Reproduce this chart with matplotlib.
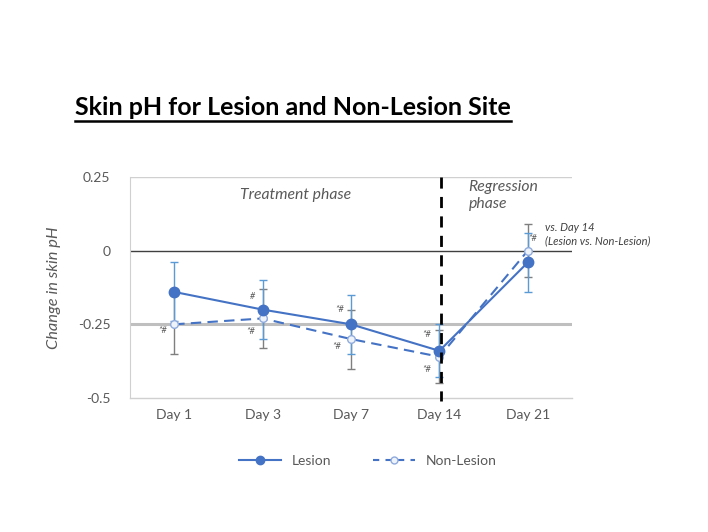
import matplotlib
matplotlib.use("Agg")
import matplotlib.pyplot as plt
from matplotlib.lines import Line2D

days = ["Day 1", "Day 3", "Day 7", "Day 14", "Day 21"]
lesion = [-0.14, -0.20, -0.25, -0.34, -0.04]
lesion_err = [0.10, 0.10, 0.10, 0.09, 0.10]
nonlesion = [-0.25, -0.23, -0.30, -0.36, 0.0]
nonlesion_err = [0.10, 0.10, 0.10, 0.09, 0.09]
yticks = [0.25, 0, -0.25, -0.5]
ytick_labels = ["0.25", "0", "-0.25", "-0.5"]

# significance marks: (x, y, text)
marks = [(-0.13, -0.27, "*#"), (0.89, -0.155, "#"), (0.87, -0.273, "*#"),
         (1.87, -0.20, "*#"), (1.84, -0.325, "*#"), (2.86, -0.284, "*#"),
         (2.86, -0.405, "*#"), (4.06, 0.04, "*#")]


def main():
    plt.rcParams['font.family'] = ['Lato', 'DejaVu Sans']
    blue = '#4472C4'
    gray = '#595959'

    fig = plt.figure(figsize=(7.08, 5.32), dpi=100)
    ax = fig.add_axes([0.1836, 0.2519, 0.6243, 0.4154])
    x = list(range(len(days)))

    ax.axhline(0.25, color='#D0D0D0', lw=1, zorder=0)
    ax.axhline(0, color='#404040', lw=1, zorder=0)
    ax.axhline(-0.25, color='#BFBFBF', lw=2.2, zorder=0)
    ax.axhline(-0.5, color='#D0D0D0', lw=1, zorder=0, clip_on=False)

    ax.errorbar(x, nonlesion, yerr=nonlesion_err, fmt='none', ecolor='#7F7F7F',
                elinewidth=1, capsize=3, zorder=2)
    ax.errorbar(x, lesion, yerr=lesion_err, fmt='none', ecolor='#5B9BD5',
                elinewidth=1, capsize=3, zorder=2)
    ax.plot(x, nonlesion, color=blue, lw=1.5, ls=(0, (5, 3)), marker='o', ms=5.5,
            mfc='#EEF3FA', mec='#8FAADC', zorder=3)
    ax.plot(x, lesion, color=blue, lw=1.5, marker='o', ms=7.5, zorder=4)

    ax.plot([3.02, 3.02], [0.25, -0.51], color='black', lw=2, ls=(0, (4, 3)),
            clip_on=False, zorder=5)

    for mx, my, mt in marks:
        ax.text(mx, my, mt, fontsize=6.5, color=gray, ha='center', va='center', style='italic')
    ax.text(4.19, 0.078, "vs. Day 14", fontsize=8, color='#404040', style='italic', va='center')
    ax.text(4.19, 0.034, "(Lesion vs. Non-Lesion)", fontsize=8, color='#404040',
            style='italic', va='center')
    ax.text(1.37, 0.19, "Treatment phase", fontsize=11.3, color=gray, style='italic',
            ha='center', va='center')
    ax.text(3.33, 0.24, "Regression\nphase", fontsize=11.3, color=gray, style='italic',
            ha='left', va='top', linespacing=1.25)

    ax.set_xlim(-0.5, 4.5)
    ax.set_ylim(-0.5, 0.25)
    ax.set_xticks(x)
    ax.set_xticklabels(days, fontsize=10, color=gray)
    ax.set_yticks(yticks)
    ax.set_yticklabels(ytick_labels, fontsize=10, color=gray)
    ax.tick_params(length=0, pad=14)
    ax.tick_params(axis='x', pad=8)
    for s in ['top', 'right', 'bottom']:
        ax.spines[s].set_visible(False)
    ax.spines['left'].set_color('#D0D0D0')
    ax.set_ylabel("Change in skin pH", fontsize=11.8, color=gray, style='italic', labelpad=12)

    handles = [Line2D([], [], color=blue, lw=1.5, marker='o', ms=6),
               Line2D([], [], color=blue, lw=1.5, ls=(0, (3, 3)), marker='o', ms=5,
                      mfc='#EEF3FA', mec='#8FAADC')]
    fig.legend(handles, ["Lesion", "Non-Lesion"], loc='center', bbox_to_anchor=(0.52, 0.134),
               ncol=2, frameon=False, fontsize=10, labelcolor=gray, handlelength=3,
               columnspacing=3)

    title = fig.text(0.414, 0.797, "Skin pH for Lesion and Non-Lesion Site", fontsize=18,
                     fontweight='bold', ha='center', va='center', color='black')
    fig.canvas.draw()
    bb = title.get_window_extent().transformed(fig.transFigure.inverted())
    fig.add_artist(Line2D([bb.x0, bb.x1], [bb.y0 - 0.003, bb.y0 - 0.003], color='black',
                          lw=1.8, transform=fig.transFigure))

    fig.savefig("out.png", dpi=100)


if __name__ == "__main__":
    main()
